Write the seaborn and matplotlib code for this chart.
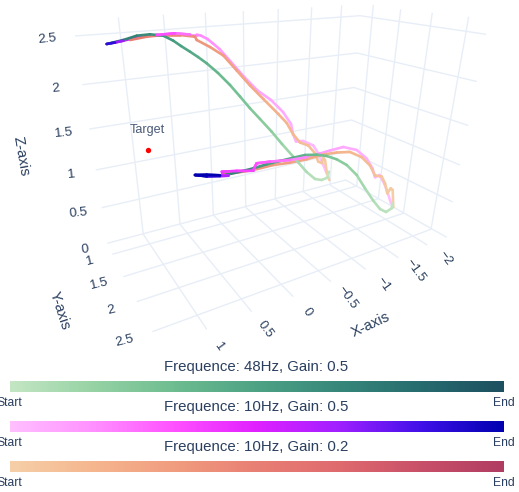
import numpy as np
import pandas as pd
import matplotlib
matplotlib.use("Agg")
import matplotlib.pyplot as plt
from matplotlib.colors import LinearSegmentedColormap
import seaborn as sns

sns.set_theme(style="white")
plt.rcParams['font.family'] = ['Liberation Sans', 'DejaVu Sans']

W, H = 519, 492
INK = "#2a3f5f"
GRID = "#e8eef7"

# --- projected grid (picture coordinates) ---
wall_z_lines = [
    [(75, 36), (360, 15.7), (486, 34.3)],
    [(82.3, 84.7), (357, 53), (476.7, 81.5)],
    [(89.3, 129), (354, 87.5), (468.3, 125.5)],
    [(95.7, 170), (351.5, 120), (460, 165)],
    [(101.7, 207.7), (348.5, 151), (452.7, 202)],
    [(107.3, 243.3), (345.7, 180), (446.7, 237.3)],
]
wall_x_lines = [
    [(118.3, 17.3), (143.3, 234.3), (206.7, 329.3)],
    [(163.3, 14.7), (180, 224.3), (251.7, 311.7)],
    [(205.3, 12.7), (213.3, 215), (293.3, 296.7)],
    [(243.3, 11), (245.7, 207.3), (331, 281.7)],
    [(278.3, 9), (275.3, 199.3), (365.7, 269.3)],
    [(311.7, 7.3), (303.3, 191.7), (398.3, 257.7)],
    [(341.7, 5.3), (330, 185), (427.3, 245)],
]
wall_y_lines = [
    [(373.3, 5), (356.7, 186), (112.3, 254.3)],
    [(400.7, 9.3), (378.3, 198.7), (123.3, 276.7)],
    [(432.3, 12.7), (403.3, 213.3), (136.7, 301.7)],
    [(468.7, 16.7), (431, 229.3), (152.3, 331.7)],
]

# --- traces: (x, y, colour position) ---
green_up = [(329, 171.7, 0), (327.3, 177.7, .02), (321.7, 180, .03), (315, 179, .05), (306.7, 172, .07),
            (298.3, 162.5, .1), (293.3, 156.7, .12), (282, 144, .16), (271.7, 131.7, .2), (260, 119, .23),
            (250, 108.3, .26), (240, 96.5, .29), (230, 85, .32), (218, 73, .36), (206.7, 63.3, .4), (198, 57, .43),
            (190, 51.7, .46), (181, 46, .5), (173.3, 40.7, .53), (163.3, 35.7, .58), (150, 34.3, .62),
            (136.7, 35.7, .67), (123.3, 40, .72), (106.7, 44, .8)]
green_low = [(392.3, 203.3, 0), (391.7, 208.3, .02), (386, 212, .03), (380, 209, .05), (373.3, 200.7, .07),
             (365, 188.3, .1), (356.7, 175, .14), (346.7, 165, .19), (336.7, 159.3, .24), (326.7, 156, .29),
             (316.7, 154.7, .34), (305, 155, .38), (293.3, 157.7, .43), (280, 161, .48), (266.7, 164.3, .53),
             (253.3, 168.3, .58), (240, 171.7, .64), (226.7, 174.7, .72), (220, 175.7, .8)]
mag_up = [(327, 174, 0), (323.3, 165, .01), (318.3, 153.3, .02), (313.3, 145.5, .03), (303.3, 141, .04),
          (296, 141.5, .05), (293, 134, .06), (291, 124, .07), (283, 112, .08), (271, 100, .09), (257.5, 90.5, .1),
          (244.5, 77.3, .11), (231, 62, .13), (219.5, 49, .15), (213, 43.5, .16), (207.5, 39, .17), (201, 35.7, .18),
          (196.7, 34.6, .19), (190, 34.6, .21),
          (175, 33.3, .3), (156.7, 35, .38), (140, 36.7, .46), (123.3, 40.7, .6), (115, 42.5, .75), (106.7, 44, 1)]
mag_low = [(391, 203.3, 0), (387.6, 192.3, .01), (384.5, 184, .02), (379.5, 175, .03), (375, 177.3, .04),
           (372.5, 168.5, .05), (366.7, 158.5, .06), (356.7, 150, .07), (343.3, 147, .08), (330, 150.5, .1),
           (320, 153.5, .13), (306.7, 157.2, .17), (290, 160, .22), (270, 161.7, .28), (256.7, 163.3, .33),
           (254, 168.3, .35), (253.3, 170.7, .37), (236.7, 171, .4), (221.7, 171.7, .42), (221.7, 175, .43),
           (228.3, 175.7, .45), (220, 176, .8), (206.7, 176.3, .95), (195, 175, 1), (206.7, 174.8, 1), (220, 175.3, 1)]
org_up = [(329.3, 180, 0), (326.7, 171.7, .02), (325, 160, .04), (323.3, 158, .05), (321.7, 163, .06),
          (318.3, 161.7, .07), (315, 153.3, .09), (308.3, 145.5, .11), (300, 142.5, .13), (293.3, 134.5, .15),
          (286.7, 123, .17), (278.3, 114, .19), (263.3, 99, .22), (250, 85.5, .25), (236.7, 70.5, .28),
          (223.3, 55.5, .31), (210, 47, .34), (196.7, 40, .38), (195, 36.7, .39), (180, 35, .43), (163.3, 35, .47),
          (146.7, 36.7, .5), (130, 40, .54)]
org_low = [(393.3, 207.3, 0), (392.7, 190, .02), (390.7, 188.3, .03), (387.3, 193.3, .04), (385, 183.3, .05),
           (381.7, 176.5, .07), (375, 175.5, .09), (370, 165.5, .11), (361.7, 157.2, .13), (350, 152, .16),
           (336.7, 152.5, .19), (323.3, 154.5, .22), (306.7, 159.3, .26), (290, 162.7, .3), (273.3, 165, .34),
           (253.3, 170, .38), (236.7, 172.7, .42), (223.3, 174, .46)]

target_xy = (147.7, 150)

green_stops = ["#c4e6c3", "#96d2a4", "#6dbc90", "#4da284", "#36877a", "#266b6e", "#1d4f60"]
magenta_stops = ["#ffc0ff", "#ff90ff", "#ff50ff", "#e020ff", "#a020ff", "#4010e8", "#0000b0"]
orange_stops = ["#f5cfa8", "#f5b68e", "#f09c7e", "#e87f74", "#df6a6e", "#c84f68", "#b03c62"]

bar_titles = ["Frequence: 48Hz, Gain: 0.5", "Frequence: 10Hz, Gain: 0.5", "Frequence: 10Hz, Gain: 0.2"]
bar_tops = [381, 421, 461]

z_ticks = [("2.5", 47, 39), ("2", 55.7, 88.3), ("1.5", 64, 133.3), ("1", 71.3, 175), ("0.5", 78.3, 213.3), ("0", 84.7, 249.3)]
y_ticks = [("1", 89.5, 261.5), ("1.5", 99.5, 284), ("2", 111, 310.5), ("2.5", 124.5, 340.5)]
x_ticks = [("1", 218.5, 346.5), ("0.5", 265.5, 329), ("0", 307.5, 312), ("\u22120.5", 347.5, 297.5),
           ("\u22121", 383, 284), ("\u22121.5", 415.5, 270.5), ("\u22122", 445.5, 258)]

fig = plt.figure(figsize=(W / 100, H / 100), dpi=100)
ax = fig.add_axes([0, 0, 1, 1])
ax.set_xlim(0, W)
ax.set_ylim(H, 0)
ax.set_autoscale_on(False)
ax.axis("off")


def polyline(pts, color, lw, z, round_cap=False):
    frame = pd.DataFrame(pts, columns=["x", "y"])
    sns.lineplot(data=frame, x="x", y="y", sort=False, estimator=None, errorbar=None, color=color,
                 lw=lw, zorder=z, ax=ax, legend=False, solid_capstyle="round" if round_cap else "butt",
                 solid_joinstyle="round")


for line in wall_z_lines + wall_x_lines + wall_y_lines:
    polyline(line, GRID, 1.0, 1)


def draw_trace(trace, cmap, z):
    for a, b in zip(trace[:-1], trace[1:]):
        polyline([a[:2], b[:2]], cmap((a[2] + b[2]) / 2), 1.9, z, round_cap=True)


cm_green = LinearSegmentedColormap.from_list("green", green_stops)
cm_magenta = LinearSegmentedColormap.from_list("magenta", magenta_stops)
cm_orange = LinearSegmentedColormap.from_list("orange", orange_stops)

draw_trace(mag_up, cm_magenta, 3.0)
draw_trace(org_up, cm_orange, 3.2)
draw_trace(green_up, cm_green, 3.4)
draw_trace(mag_low, cm_magenta, 3.0)
draw_trace(org_low, cm_orange, 3.2)
draw_trace(green_low, cm_green, 3.4)
draw_trace(mag_up[18:21], cm_magenta, 3.8)
draw_trace(mag_up[22:], cm_magenta, 3.8)
draw_trace(mag_low[11:], cm_magenta, 3.8)

sns.scatterplot(x=[target_xy[0]], y=[target_xy[1]], color="#ff0000", s=15, linewidth=0, zorder=5, ax=ax, legend=False)
ax.text(147.7, 130, "Target", fontsize=9.1, color="#4a5a78", ha="center", va="center")

for lab, x, y in z_ticks:
    ax.text(x, y, lab, fontsize=9.6, color=INK, ha="center", va="center", rotation=6)
for lab, x, y in y_ticks:
    ax.text(x, y, lab, fontsize=9.6, color=INK, ha="center", va="center", rotation=14)
for lab, x, y in x_ticks:
    ax.text(x, y, lab, fontsize=9.4, color=INK, ha="center", va="center", rotation=-54)

ax.text(21, 156, "Z-axis", fontsize=10.6, color=INK, ha="center", va="center", rotation=-80)
ax.text(60, 311, "Y-axis", fontsize=10.6, color=INK, ha="center", va="center", rotation=-72)
ax.text(371, 325, "X-axis", fontsize=10.6, color=INK, ha="center", va="center", rotation=25)

ramp = np.linspace(0, 1, 256)[None, :]
for title, top, stops in zip(bar_titles, bar_tops, [green_stops, magenta_stops, orange_stops]):
    cax = fig.add_axes([9.5 / W, 1 - (top + 11) / H, 494 / W, 11 / H])
    sns.heatmap(ramp, cmap=LinearSegmentedColormap.from_list("b", stops), cbar=False,
                xticklabels=False, yticklabels=False, ax=cax, rasterized=True)
    ax.text(256, top - 14.3, title, fontsize=10.8, color=INK, ha="center", va="center")
    ax.text(9.5, top + 22.5, "Start", fontsize=8.7, color=INK, ha="center", va="center")
    ax.text(503.5, top + 22.5, "End", fontsize=8.7, color=INK, ha="center", va="center")

fig.savefig("out.png", dpi=100, facecolor="white")
